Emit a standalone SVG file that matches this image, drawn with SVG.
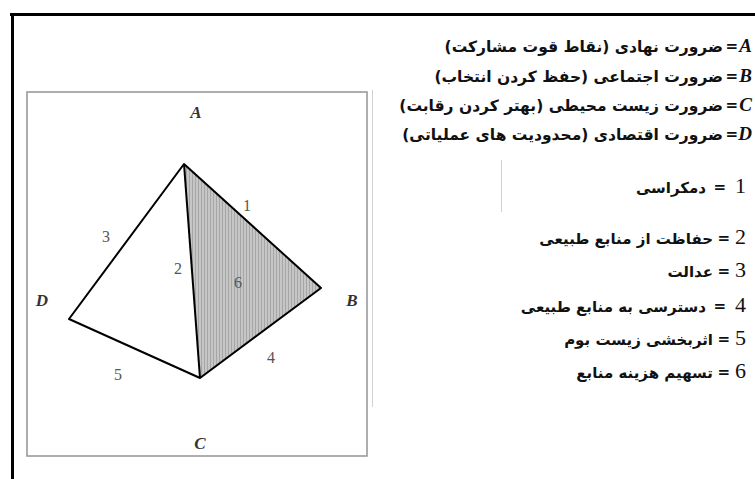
<svg xmlns="http://www.w3.org/2000/svg" width="755" height="479" viewBox="0 0 755 479">
<style>
.frame{stroke:#000;stroke-width:3;fill:none}
.box{stroke:#9a9a9a;stroke-width:1.6;fill:none}
.faint{stroke:#d0d0d0;stroke-width:1;fill:none}
.edge{stroke:#000;stroke-width:2;fill:none;stroke-linejoin:round}
.num{font-family:"Liberation Serif",serif;font-size:16px;fill:#555;text-anchor:middle}
.vlab{font-family:"Liberation Serif",serif;font-size:17px;font-style:italic;font-weight:bold;fill:#333;text-anchor:middle}
.fa{font-family:"DejaVu Sans",sans-serif;font-size:15.5px;font-weight:bold;fill:#111;direction:rtl;unicode-bidi:embed}
.fl{font-family:"DejaVu Sans",sans-serif;font-size:15px;font-weight:bold;fill:#111;direction:rtl;unicode-bidi:embed}
.lt{font-family:"Liberation Serif",serif;font-size:19px;font-style:italic;font-weight:bold;fill:#111;text-anchor:end}
.eq{font-family:"DejaVu Sans",sans-serif;font-size:15px;font-weight:bold;fill:#111;text-anchor:end}
.n{font-family:"Liberation Serif",serif;font-size:22px;fill:#111;text-anchor:end}
</style>
<defs>
<pattern id="hatch" width="3" height="6" patternUnits="userSpaceOnUse">
<rect width="3" height="6" fill="#c6c6c6"/>
<rect width="1" height="6" fill="#a6a6a6"/>
</pattern>
</defs>
<rect width="755" height="479" fill="#fff"/>
<g id="frame">
<path class="frame" d="M10 14.5H755M12.5 13V479"/>
<rect class="box" x="27" y="92" width="340" height="364"/>
<path class="faint" d="M372.5 90V407M501.5 160V212"/>
</g>
<g id="shaded-face">
<polygon points="184,164 321,288 200,378" fill="url(#hatch)"/>
</g>
<g id="connectors">
<polygon class="edge" points="69,319 184,164 321,288 200,378"/>
<line class="edge" x1="184" y1="164" x2="200" y2="378"/>
</g>
<g id="vertex-A"><text class="vlab" x="196" y="118">A</text></g>
<g id="vertex-B"><text class="vlab" x="352" y="306">B</text></g>
<g id="vertex-C"><text class="vlab" x="200" y="449" font-style="normal">C</text></g>
<g id="vertex-D"><text class="vlab" x="42" y="306">D</text></g>
<g id="edge-labels">
<text class="num" x="247" y="211">1</text>
<text class="num" x="178" y="274">2</text>
<text class="num" x="106" y="242">3</text>
<text class="num" x="271" y="363">4</text>
<text class="num" x="118" y="380">5</text>
<text class="num" x="238" y="288">6</text>
</g>
<g id="legend-letters">
<text class="lt" x="752" y="52">A</text><text class="eq" x="738" y="51">=</text>
<text class="fa" x="723" y="52">ضرورت نهادی (نقاط قوت مشارکت)</text>
<text class="lt" x="752" y="82">B</text><text class="eq" x="738" y="81">=</text>
<text class="fa" x="723" y="82">ضرورت اجتماعی (حفظ کردن انتخاب)</text>
<text class="lt" x="752" y="111" font-style="normal">C</text><text class="eq" x="738" y="110">=</text>
<text class="fa" x="723" y="111">ضرورت زیست محیطی (بهتر کردن رقابت)</text>
<text class="lt" x="752" y="140">D</text><text class="eq" x="738" y="139">=</text>
<text class="fa" x="723" y="140">ضرورت اقتصادی (محدودیت های عملیاتی)</text>
</g>
<g id="legend-numbers">
<text class="n" x="746" y="193">1</text><text class="eq" x="726" y="192">=</text>
<text class="fl" x="706" y="193">دمکراسی</text>
<text class="n" x="746" y="244">2</text><text class="eq" x="730" y="243">=</text>
<text class="fl" x="713" y="244">حفاظت از منابع طبیعی</text>
<text class="n" x="746" y="277">3</text><text class="eq" x="730" y="276">=</text>
<text class="fl" x="713" y="277">عدالت</text>
<text class="n" x="746" y="312">4</text><text class="eq" x="726" y="311">=</text>
<text class="fl" x="706" y="312">دسترسی به منابع طبیعی</text>
<text class="n" x="746" y="345">5</text><text class="eq" x="730" y="344">=</text>
<text class="fl" x="713" y="345">اثربخشی زیست بوم</text>
<text class="n" x="746" y="378">6</text><text class="eq" x="730" y="377">=</text>
<text class="fl" x="713" y="378">تسهیم هزینه منابع</text>
</g>
</svg>
